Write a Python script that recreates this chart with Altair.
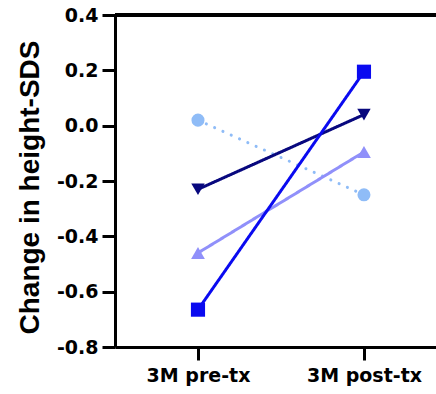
import altair as alt
import pandas as pd

# Timepoints and per-patient change in height-SDS
timepoints = ["3M pre-tx", "3M post-tx"]
patients = ["P1", "P2", "P3", "P4"]
pre_values = [0.02, -0.23, -0.46, -0.665]
post_values = [-0.25, 0.04, -0.095, 0.195]
shapes = ["circle", "triangle-down", "triangle-up", "square"]
sizes = [170, 200, 200, 215]
colors = ["#8fbcf7", "#08087e", "#9090fa", "#0a0af0"]
dashes = [[0.1, 9], [1, 0], [1, 0], [1, 0]]
y_ticks = [0.4, 0.2, 0.0, -0.2, -0.4, -0.6, -0.8]

rows = []
for p, a, b in zip(patients, pre_values, post_values):
    rows.append({"patient": p, "t": 0, "value": a})
    rows.append({"patient": p, "t": 1, "value": b})
df = pd.DataFrame(rows)

W, H = 321, 332
LABEL_FONT = "DejaVu Sans"
TITLE_FONT = "Liberation Sans"

x_enc = alt.X(
    "t:Q",
    scale=alt.Scale(domain=[-0.5, 1.434], nice=False, zero=False),
    axis=alt.Axis(
        values=[0, 1],
        labelExpr="datum.value == 0 ? '%s' : '%s'" % (timepoints[0], timepoints[1]),
        title=None,
        labelPadding=6,
    ),
)
y_enc = alt.Y(
    "value:Q",
    scale=alt.Scale(domain=[-0.8, 0.4], nice=False, zero=False),
    axis=alt.Axis(
        values=y_ticks,
        labelExpr="datum.value < 0 ? '-' + format(-datum.value, '.1f') : format(datum.value, '.1f')",
        title="Change in height-SDS",
        titleFont=TITLE_FONT,
        titleFontSize=28,
        titleFontWeight="bold",
        titleColor="black",
        titlePadding=12,
        titleY=172,
        labelPadding=4,
    ),
)

color_scale = alt.Scale(domain=patients, range=colors)

lines = alt.Chart(df).mark_line(strokeWidth=3, strokeCap="round").encode(
    x=x_enc,
    y=y_enc,
    color=alt.Color("patient:N", scale=color_scale, legend=None),
    strokeDash=alt.StrokeDash("patient:N", scale=alt.Scale(domain=patients, range=dashes), legend=None),
    detail="patient:N",
)

points = alt.Chart(df).mark_point(filled=True, opacity=1).encode(
    x="t:Q",
    y="value:Q",
    color=alt.Color("patient:N", scale=color_scale, legend=None),
    shape=alt.Shape("patient:N", scale=alt.Scale(domain=patients, range=shapes), legend=None),
    size=alt.Size("patient:N", scale=alt.Scale(domain=patients, range=sizes), legend=None),
)

top_rule = alt.Chart(df).mark_rule(color="black", strokeWidth=3).encode(
    x=alt.value(0), x2=alt.value(W), y=alt.value(0)
)

chart = (
    alt.layer(lines, points, top_rule)
    .properties(
        width=W,
        height=H,
        autosize=alt.AutoSizeParams(type="none"),
        padding={"left": 115, "top": 15, "right": 0, "bottom": 47},
        background="white",
    )
    .configure_view(strokeWidth=0)
    .configure_axis(
        grid=False,
        domainWidth=3,
        domainColor="black",
        tickWidth=3,
        tickColor="black",
        tickSize=13,
        labelFont=LABEL_FONT,
        labelFontSize=19,
        labelFontWeight="bold",
        labelColor="black",
    )
)

chart.save("out.html", embed_options={"renderer": "svg", "actions": False})
